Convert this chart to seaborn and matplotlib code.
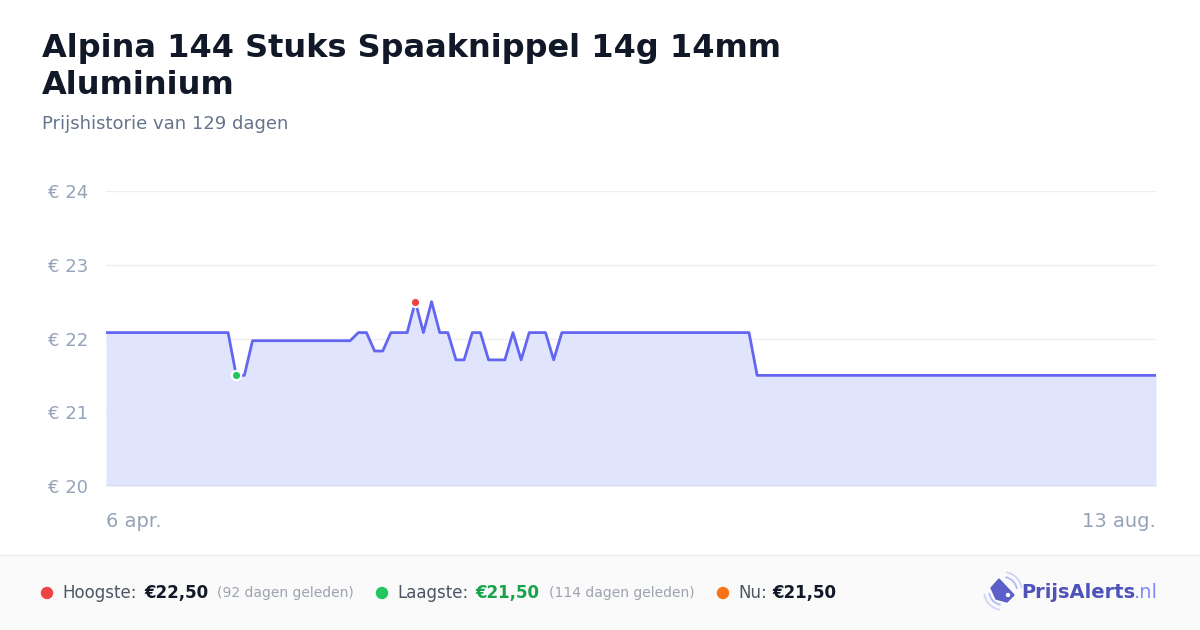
import matplotlib
matplotlib.use("Agg")
import matplotlib.pyplot as plt
import matplotlib.patches as mpatches
import seaborn as sns
import pandas as pd

# price breakpoints (days since 6 apr, price in EUR)
days = [0, 15, 16, 17, 18, 30, 31, 32, 33, 34, 35, 37, 38, 39, 40, 41, 42, 43, 44,
        45, 46, 47, 49, 50, 51, 52, 54, 55, 56, 79, 80, 129]
prices = [22.08, 22.08, 21.50, 21.50, 21.97, 21.97, 22.08, 22.08, 21.83, 21.83, 22.08,
          22.08, 22.50, 22.08, 22.50, 22.08, 22.08, 21.71, 21.71, 22.08, 22.08, 21.71,
          21.71, 22.08, 21.71, 22.08, 22.08, 21.71, 22.08, 22.08, 21.50, 21.50]
start = pd.Timestamp("2024-04-06")
high_day, high_price = 38, 22.50
low_day, low_price = 16, 21.50
y_ticks = [20, 21, 22, 23, 24]
x_labels = ["6 apr.", "13 aug."]

df = pd.DataFrame({"date": [start + pd.Timedelta(days=d) for d in days], "price": prices})

sns.set_theme(style="white")
plt.rcParams["font.family"] = ["DejaVu Sans"]

fig = plt.figure(figsize=(12, 6.3), dpi=100)
fig.patch.set_facecolor("white")


def px(x):
    return x / 1200


def py(y):
    return 1 - y / 630


ax = fig.add_axes([px(106), py(486), 1050 / 1200, 295 / 630])
ax.set_facecolor("white")

line_c = "#6366f1"
ax.fill_between(df["date"], df["price"], 20, color="#e0e4fd", lw=0, zorder=1)
sns.lineplot(data=df, x="date", y="price", ax=ax, color=line_c, lw=2, zorder=3)

ax.scatter([start + pd.Timedelta(days=high_day)], [high_price], s=45, color="#ef4444",
           edgecolor="white", linewidth=1.5, zorder=5)
ax.scatter([start + pd.Timedelta(days=low_day)], [low_price], s=45, color="#22c55e",
           edgecolor="white", linewidth=1.5, zorder=5)

ax.set_xlim(df["date"].iloc[0], df["date"].iloc[-1])
ax.set_ylim(20, 24)
ax.set_yticks(y_ticks)
ax.set_yticklabels([f"€ {t}" for t in y_ticks], color="#94a3b8", fontsize=13)
ax.tick_params(axis="y", length=0, pad=13)
ax.set_xticks([])
ax.set_xlabel("")
ax.set_ylabel("")
for t in y_ticks:
    if t == 20:
        ax.axhline(t, color="#d4d8e8", lw=1.2, zorder=4)
    else:
        ax.axhline(t, color="#eeeeee", lw=1, zorder=0)
for s in ax.spines.values():
    s.set_visible(False)

ax.text(0, -0.12, x_labels[0], transform=ax.transAxes, ha="left", va="center",
        color="#94a3b8", fontsize=14)
ax.text(1, -0.12, x_labels[1], transform=ax.transAxes, ha="right", va="center",
        color="#94a3b8", fontsize=14)

# title block
fig.text(px(42), py(48), "Alpina 144 Stuks Spaaknippel 14g 14mm", fontsize=23,
         fontweight="bold", color="#111827", va="center")
fig.text(px(42), py(85), "Aluminium", fontsize=23,
         fontweight="bold", color="#111827", va="center")
fig.text(px(42), py(124), "Prijshistorie van 129 dagen", fontsize=13,
         color="#64748b", va="center")

# footer
fig.patches.append(mpatches.Rectangle((0, 0), 1, 75 / 630, transform=fig.transFigure,
                                      color="#fafafa", zorder=0))
fig.add_artist(plt.Line2D([0, 1], [75 / 630, 75 / 630], color="#eeeeee", lw=1,
                          transform=fig.transFigure))

fy = py(593)

for x, c in [(47, "#ef4444"), (382, "#22c55e"), (723, "#f97316")]:
    fig.add_artist(mpatches.Ellipse((px(x), fy), 11 / 1200, 11 / 630, color=c,
                                    transform=fig.transFigure))

fig.text(px(62), fy, "Hoogste:", fontsize=12, color="#4b5563", va="center")
fig.text(px(144), fy, "€22,50", fontsize=12, color="#111827", fontweight="bold", va="center")
fig.text(px(217), fy, "(92 dagen geleden)", fontsize=10, color="#9ca3af", va="center")
fig.text(px(397), fy, "Laagste:", fontsize=12, color="#4b5563", va="center")
fig.text(px(475), fy, "€21,50", fontsize=12, color="#16a34a", fontweight="bold", va="center")
fig.text(px(549), fy, "(114 dagen geleden)", fontsize=10, color="#9ca3af", va="center")
fig.text(px(738), fy, "Nu:", fontsize=12, color="#4b5563", va="center")
fig.text(px(772), fy, "€21,50", fontsize=12, color="#111827", fontweight="bold", va="center")

# logo: tag icon with signal arcs
tag = mpatches.Polygon([(px(991), py(588)), (px(999), py(579)), (px(1014), py(595)),
                        (px(1007), py(602)), (px(996), py(599))], closed=True,
                       color="#5b5fc7", transform=fig.transFigure)
fig.add_artist(tag)
fig.add_artist(mpatches.Ellipse((px(1008), py(595)), 3 / 1200, 3 / 630, color="white",
                                transform=fig.transFigure))
for r, a in [(14, 0.6), (19, 0.35)]:
    for t1, t2 in [(15, 85), (195, 265)]:
        fig.add_artist(mpatches.Arc((px(1003), py(591)), 2 * r / 1200, 2 * r / 630,
                                    theta1=t1, theta2=t2, color="#818cf8", alpha=a,
                                    lw=1.3, transform=fig.transFigure))
fig.text(px(1021), fy, "PrijsAlerts", fontsize=14, color="#4f52b8", fontweight="bold",
         va="center")
fig.text(px(1134), fy, ".nl", fontsize=14, color="#818cf8", va="center")

fig.savefig("out.png", dpi=100, facecolor="white")
